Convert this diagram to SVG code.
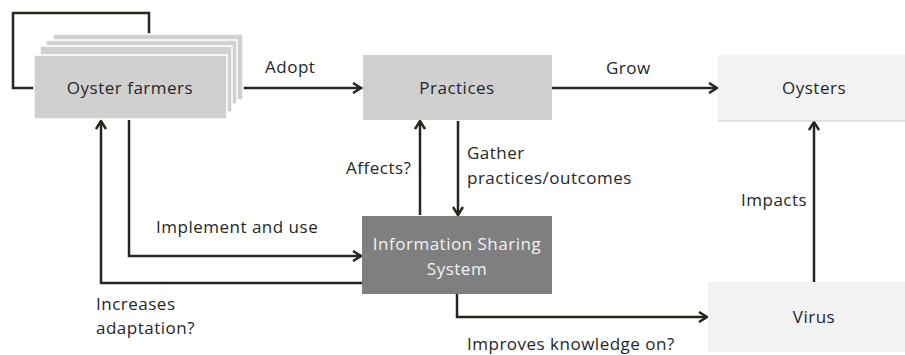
<svg xmlns="http://www.w3.org/2000/svg" width="905" height="355" viewBox="0 0 905 355">
<defs>
<style>
.t{font-family:"Open Sans","Noto Sans",sans-serif;font-size:17px;letter-spacing:0.5px;fill:#262626}
.c{text-anchor:middle}
.w{fill:#f2f2f2}
.ln{fill:none;stroke:#262620;stroke-width:2.5}
.card{fill:#d0d0d0;stroke:#ffffff;stroke-width:1.5}
</style>
<marker id="ah" viewBox="0 0 12 12" refX="10" refY="6" markerWidth="12" markerHeight="12" markerUnits="userSpaceOnUse" orient="auto">
<path d="M2,1 L10,6 L2,11" fill="none" stroke="#262620" stroke-width="2.5"/>
</marker>
</defs>
<rect width="905" height="355" fill="#ffffff"/>
<g id="connectors">
<path class="ln" d="M149,34 V13 H13 V88 H34"/>
<path class="ln" d="M227,88 H361" marker-end="url(#ah)"/>
<path class="ln" d="M552,88 H717" marker-end="url(#ah)"/>
<path class="ln" d="M420,215 V121" marker-end="url(#ah)"/>
<path class="ln" d="M458,121 V215" marker-end="url(#ah)"/>
<path class="ln" d="M129,120 V256 H361" marker-end="url(#ah)"/>
<path class="ln" d="M362,283 H101 V121" marker-end="url(#ah)"/>
<path class="ln" d="M457,294 V317 H707" marker-end="url(#ah)"/>
<path class="ln" d="M814,282 V122" marker-end="url(#ah)"/>
<text class="t" x="265" y="73">Adopt</text>
<text class="t" x="606" y="74">Grow</text>
<text class="t" x="346" y="174">Affects?</text>
<text class="t" x="467" y="159">Gather</text>
<text class="t" x="467" y="184">practices/outcomes</text>
<text class="t" x="156" y="233">Implement and use</text>
<text class="t" x="96" y="310">Increases</text>
<text class="t" x="96" y="334">adaptation?</text>
<text class="t" x="741" y="206">Impacts</text>
<text class="t" x="467" y="350">Improves knowledge on?</text>
</g>
<g id="oyster-farmers">
<rect class="card" x="53" y="34" width="190" height="66"/>
<rect class="card" x="46" y="40" width="191" height="64"/>
<rect class="card" x="40" y="46" width="192" height="66"/>
<rect class="card" x="34" y="55" width="193" height="64"/>
<text class="t c" x="130" y="94">Oyster farmers</text>
</g>
<g id="practices">
<rect x="363" y="55" width="189" height="65" fill="#d0d0d0"/>
<text class="t c" x="457" y="94">Practices</text>
</g>
<g id="oysters">
<rect class="w" x="718" y="55" width="192" height="66"/>
<line x1="718" y1="121" x2="910" y2="121" stroke="#cccccc" stroke-width="1"/>
<text class="t c" x="814" y="94">Oysters</text>
</g>
<g id="information-sharing-system">
<rect x="362" y="216" width="190" height="78" fill="#7f7f7f"/>
<text class="t c" x="457" y="250" style="fill:#f2f2f2">Information Sharing</text>
<text class="t c" x="457" y="275" style="fill:#f2f2f2">System</text>
</g>
<g id="virus">
<rect class="w" x="708" y="282" width="212" height="70"/>
<text class="t c" x="814" y="323">Virus</text>
</g>
</svg>
